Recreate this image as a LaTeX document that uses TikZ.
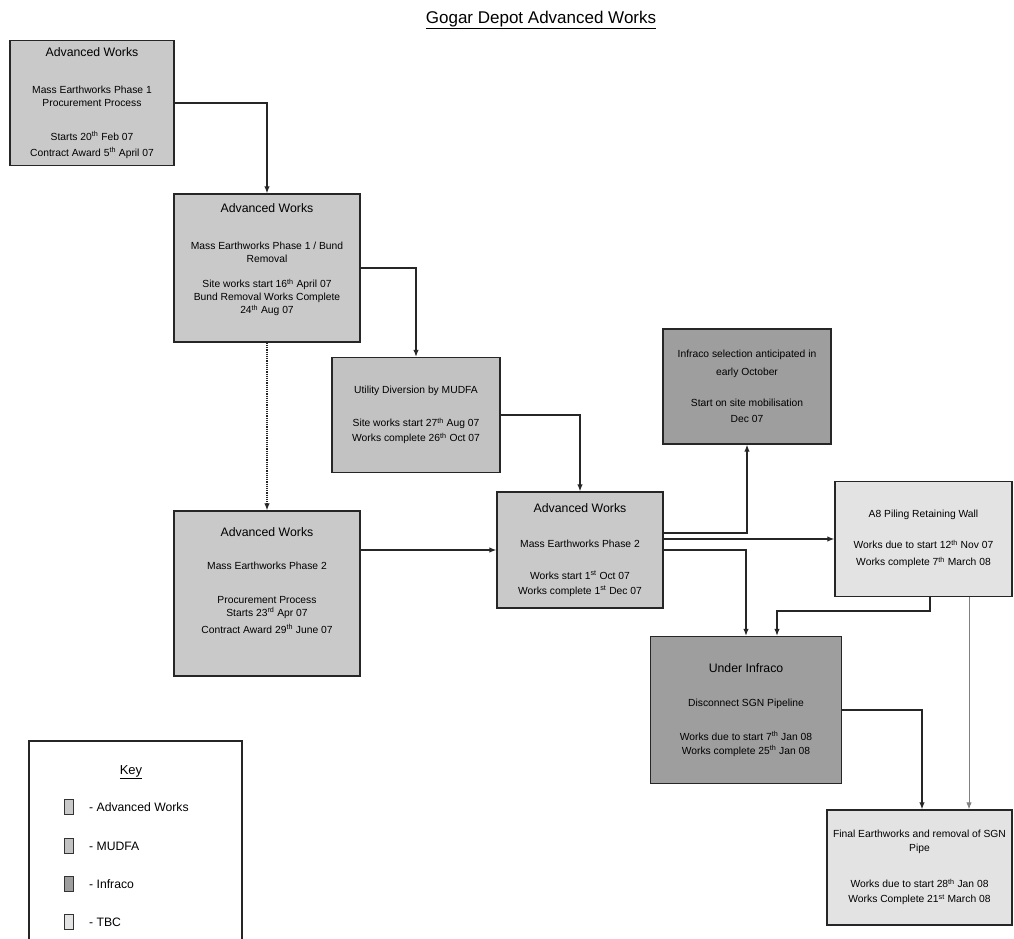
\documentclass[tikz,border=0pt]{standalone}
\usepackage{fontspec}
\setmainfont{Liberation Sans}
\usetikzlibrary{arrows.meta}
\definecolor{awfill}{gray}{0.79}
\definecolor{mudfafill}{gray}{0.76}
\definecolor{infrafill}{gray}{0.62}
\definecolor{tbcfill}{gray}{0.89}
\newcommand{\hd}[1]{{\fontsize{12.3}{13}\selectfont #1}}
\newcommand{\ordsup}[1]{\textsuperscript{#1}}
\tikzset{
  box/.style={draw=black!85, line width=1.4pt, align=center, inner sep=2pt,
    font=\fontsize{10.3}{13}\selectfont},
  conn/.style={line width=1.2pt, draw=black!85, -{Latex[length=7pt,width=5.5pt]}},
  keysq/.style={draw=black!80, line width=0.8pt, minimum width=9pt, minimum height=15pt, inner sep=0pt},
  keytxt/.style={anchor=west, inner sep=0pt, font=\fontsize{12.2}{14}\selectfont},
}
\begin{document}
\begin{tikzpicture}[x=1pt,y=-1pt]
\useasboundingbox (0,0) rectangle (1014,939);
\fill[white] (0,0) rectangle (1014,939);

\node[font=\fontsize{17}{20}\selectfont] (title) at (541,20) {\underline{Gogar Depot Advanced Works}};

\node[box, fill=awfill, minimum width=164pt, minimum height=125pt] (b1) at (92,103)
  {\hd{Advanced Works}\\[24pt] Mass Earthworks Phase 1\\ Procurement Process\\[21pt]
   Starts 20\ordsup{th} Feb 07\\[3pt] Contract Award 5\ordsup{th} April 07};

\node[box, fill=awfill, minimum width=186pt, minimum height=148pt] (b2) at (267,268)
  {\hd{Advanced Works}\\[24pt] Mass Earthworks Phase 1 / Bund\\ Removal\\[12pt]
   Site works start 16\ordsup{th} April 07\\ Bund Removal Works Complete\\ 24\ordsup{th} Aug 07\\[5pt]~};

\node[box, fill=mudfafill, minimum width=168pt, minimum height=115pt] (mudfa) at (416,415)
  {Utility Diversion by MUDFA\\[20pt] Site works start 27\ordsup{th} Aug 07\\[2pt]
   Works complete 26\ordsup{th} Oct 07};

\node[box, fill=awfill, minimum width=186pt, minimum height=165pt] (b3) at (267,593.5)
  {\hd{Advanced Works}\\[20pt] Mass Earthworks Phase 2\\[21pt] Procurement Process\\
   Starts 23\ordsup{rd} Apr 07\\[4pt] Contract Award 29\ordsup{th} June 07\\[13pt]~};

\node[box, fill=awfill, minimum width=166pt, minimum height=116pt] (aw2) at (580,550)
  {\hd{Advanced Works}\\[22pt] Mass Earthworks Phase 2\\[19pt]
   Works start 1\ordsup{st} Oct 07\\[2pt] Works complete 1\ordsup{st} Dec 07};

\node[box, fill=infrafill, minimum width=168pt, minimum height=115pt] (infsel) at (747,386.5)
  {Infraco selection anticipated in\\[5pt] early October\\[18pt]
   Start on site mobilisation\\[3pt] Dec 07};

\node[box, fill=tbcfill, minimum width=177pt, minimum height=115pt] (a8) at (923.5,539)
  {A8 Piling Retaining Wall\\[18pt] Works due to start 12\ordsup{th} Nov 07\\[4pt]
   Works complete 7\ordsup{th} March 08};

\node[box, fill=infrafill, minimum width=191pt, minimum height=147pt] (under) at (746,710)
  {\hd{Under Infraco}\\[21pt] Disconnect SGN Pipeline\\[21pt]
   Works due to start 7\ordsup{th} Jan 08\\[1pt] Works complete 25\ordsup{th} Jan 08};

\node[box, fill=tbcfill, minimum width=185pt, minimum height=115pt] (final) at (919.5,867.5)
  {Final Earthworks and removal of SGN\\[1pt] Pipe\\[23pt]
   Works due to start 28\ordsup{th} Jan 08\\[2pt] Works Complete 21\ordsup{st} March 08};

% connectors
\draw[conn] (b1.east) -| (b2.north);
\draw[conn] (b2.east) -| (mudfa.north);
\draw[conn] (mudfa.east) -| (aw2.north);
\draw[conn, densely dotted] (b2.south) -- (b3.north);
\draw[conn] (b3.east |- aw2.west) -- (aw2.west);
\draw[conn] ([yshift=17pt]aw2.east) -| (infsel.south);
\draw[conn] (aw2.east |- a8.west) -- (a8.west);
\draw[conn] (aw2.east) -| (under.north);
\coordinate (k1) at (777,611);
\draw[conn] ([xshift=6.5pt]a8.south) |- (k1) -- (k1 |- under.north);
\coordinate (g1) at ([xshift=45.5pt]a8.south);
\draw[conn, draw=black!50, line width=0.9pt] (g1) -- (g1 |- final.north);
\draw[conn] (under.east) -| ([xshift=2.5pt]final.north);

% key
\draw[line width=1.2pt, black!85] (29,939) -- (29,741) -- (242,741) -- (242,939);
\node[font=\fontsize{13}{15}\selectfont] (keyt) at (131,772) {\underline{Key}};
\node[keysq, fill=awfill] (ks1) at (68.5,807) {};
\node[keytxt] (kt1) at (89,807) {- Advanced Works};
\node[keysq, fill=mudfafill] (ks2) at (68.5,846) {};
\node[keytxt] (kt2) at (89,846) {- MUDFA};
\node[keysq, fill=infrafill] (ks3) at (68.5,884) {};
\node[keytxt] (kt3) at (89,884) {- Infraco};
\node[keysq, fill=tbcfill] (ks4) at (68.5,922) {};
\node[keytxt] (kt4) at (89,922) {- TBC};
\end{tikzpicture}
\end{document}
